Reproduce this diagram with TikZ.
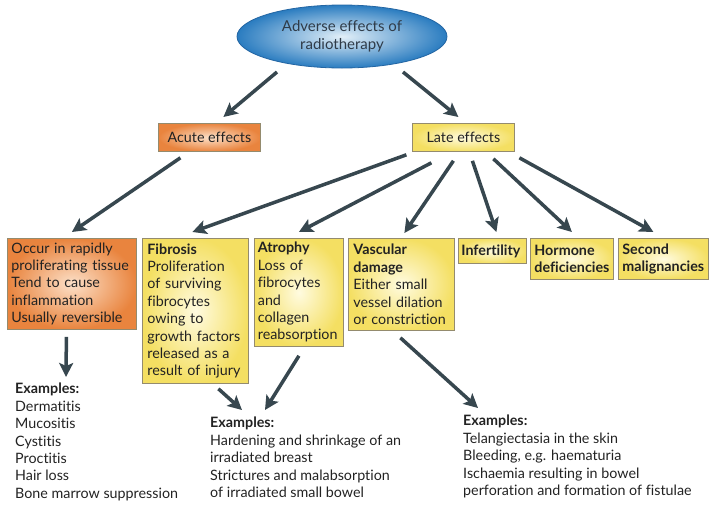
\documentclass[tikz,border=0pt]{standalone}
\usepackage{fontspec}
\setmainfont{Lato}[Ligatures={NoCommon}]
\usetikzlibrary{arrows.meta,shapes.geometric}
\definecolor{arrowc}{HTML}{37474F}
\definecolor{txt}{HTML}{222222}
\definecolor{boxborder}{HTML}{948B6E}
\definecolor{yin}{HTML}{FFFBE0}
\definecolor{yout}{HTML}{F4DF62}
\definecolor{oin}{HTML}{FCE0C8}
\definecolor{oout}{HTML}{E9843E}
\definecolor{ein}{HTML}{E2EFF8}
\definecolor{eout}{HTML}{2A7CC0}
\definecolor{eborder}{HTML}{2466A3}
\definecolor{etxt}{HTML}{2F3B48}
\begin{document}
\begin{tikzpicture}[x=1pt,y=-1pt,
  every node/.style={font=\fontsize{14.3}{17.4}\selectfont, text=txt},
  box/.style={draw=boxborder, line width=0.8pt, anchor=north west, inner xsep=5pt, inner ysep=0pt, align=left},
  ybox/.style={box, inner color=yin, outer color=yout},
  obox/.style={box, inner color=oin, outer color=oout},
  exs/.style={anchor=north west, inner sep=0pt, align=left},
  arr/.style={draw=arrowc, line width=3.5pt, -{Stealth[length=14pt,width=14pt,inset=3pt]}},
]
\useasboundingbox (0,0) rectangle (714,507);

% top ellipse
\node[ellipse, draw=eborder, line width=0.8pt, inner color=ein, outer color=eout,
      minimum width=210pt, minimum height=63pt, align=center, text=etxt,
      font=\fontsize{15}{18}\selectfont] (ell) at (342,36.5)
      {Adverse effects of\\radiotherapy};

% second level
\node[obox, minimum width=102pt, minimum height=28pt, align=center, inner xsep=0pt] (acute) at (158,123) {Acute effects};
\node[ybox, minimum width=102pt, minimum height=28pt, align=center, inner xsep=0pt] (late) at (412,123) {Late effects};

% third level
\node[obox, inner xsep=4pt, text width=121pt, minimum height=91pt] (occur) at (7,238)
  {Occur in rapidly\\proliferating tissue\\Tend to cause\\inflammation\\Usually reversible};
\node[ybox, text width=96pt, minimum height=145pt] (fib) at (142,238)
  {\textbf{Fibrosis}\\Proliferation\\of surviving\\fibrocytes\\owing to\\growth factors\\released as a\\result of injury};
\node[ybox, inner xsep=3.5pt, text width=82pt, minimum height=108pt] (atr) at (254,238)
  {\textbf{Atrophy}\\Loss of\\fibrocytes\\and\\collagen\\reabsorption};
\node[ybox, text width=96pt, minimum height=92pt] (vas) at (348,238)
  {\textbf{Vascular}\\\textbf{damage}\\Either small\\vessel dilation\\or constriction};
\node[ybox, inner xsep=3pt, text width=62pt, minimum height=25pt] (inf) at (458,238)
  {\textbf{Infertility}};
\node[ybox, inner xsep=4pt, text width=75pt, minimum height=41pt] (hor) at (530,238)
  {\textbf{Hormone}\\\textbf{deficiencies}};
\node[ybox, inner xsep=4pt, text width=82pt, minimum height=41pt] (sec) at (618,238)
  {\textbf{Second}\\\textbf{malignancies}};

% examples
\node[exs] (ex1) at (15,383)
  {\textbf{Examples:}\\Dermatitis\\Mucositis\\Cystitis\\Proctitis\\Hair loss\\Bone marrow suppression};
\node[exs] (ex2) at (210,417)
  {\textbf{Examples:}\\Hardening and shrinkage of an\\irradiated breast\\Strictures and malabsorption\\of irradiated small bowel};
\node[exs] (ex3) at (463,415)
  {\textbf{Examples:}\\Telangiectasia in the skin\\Bleeding, e.g. haematuria\\Ischaemia resulting in bowel\\perforation and formation of fistulae};

% arrows
\draw[arr] ([shift={(-65,35.5)}]ell.center) -- ([shift={(14,-6)}]acute.north);
\draw[arr] ([shift={(61,35.5)}]ell.center) -- ([shift={(-5,-6)}]late.north);
\draw[arr] ([shift={(-29,6)}]acute.south) -- ([shift={(0,-6)}]occur.north);
\draw[arr] ([shift={(-57,3)}]late.south) -- ([shift={(-3,-6)}]fib.north);
\draw[arr] ([shift={(-32,11)}]late.south) -- ([shift={(0,-6)}]atr.north);
\draw[arr] ([shift={(-10,9)}]late.south) -- ([shift={(3,-5)}]vas.north);
\draw[arr] ([shift={(9,9)}]late.south) -- ([shift={(4,-6)}]inf.north);
\draw[arr] ([shift={(30,7)}]late.south) -- ([shift={(0,-6)}]hor.north);
\draw[arr] ([shift={(56,6)}]late.south) -- ([shift={(-10,-6)}]sec.north);
\draw[arr] ([shift={(-5.5,7)}]occur.south) -- ([shift={(51,-6)}]ex1.north west);
\draw[arr] ([shift={(23,5)}]fib.south) -- ([shift={(32,-7)}]ex2.north west);
\draw[arr] ([shift={(0,9)}]atr.south) -- ([shift={(55,-7)}]ex2.north west);
\draw[arr] ([shift={(-1,7)}]vas.south) -- ([shift={(15,-7)}]ex3.north west);
\end{tikzpicture}
\end{document}
